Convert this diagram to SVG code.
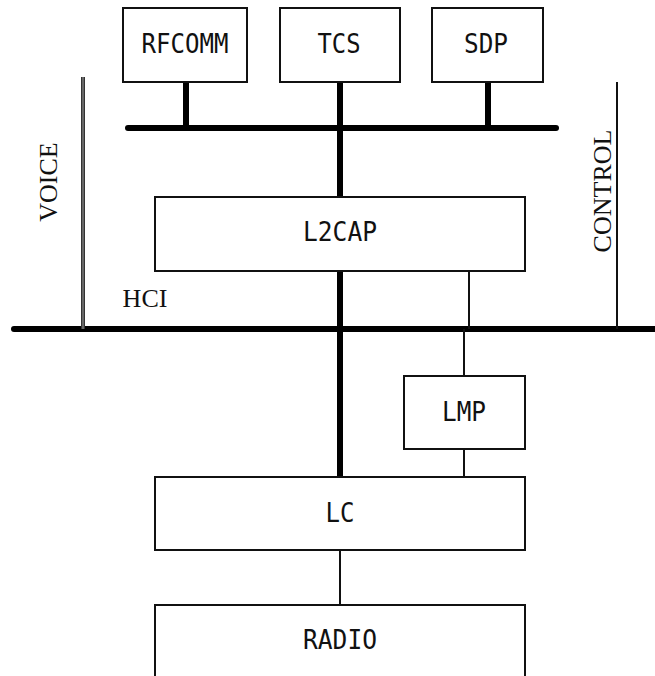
<svg xmlns="http://www.w3.org/2000/svg" width="655" height="676" viewBox="0 0 655 676">
<style>
.box{fill:#fff;stroke:#111;stroke-width:2}
.lbl{font-family:"DejaVu Sans Mono","Liberation Mono",monospace;font-size:27px;fill:#111;text-anchor:middle}
.side{font-family:"Liberation Serif","Times New Roman",serif;font-size:26px;fill:#111;text-anchor:middle}
.thick{stroke:#000;stroke-width:6;stroke-linecap:round;fill:none}
.thin{stroke:#111;stroke-width:2;fill:none}
</style>
<rect width="655" height="676" fill="#fff"/>
<g id="connectors">
  <line class="thick" x1="128" y1="128" x2="556" y2="128"/>
  <line class="thick" x1="186" y1="82" x2="186" y2="128"/>
  <line class="thick" x1="340" y1="82" x2="340" y2="197"/>
  <line class="thick" x1="488" y1="82" x2="488" y2="128"/>
  <line class="thick" x1="14" y1="329" x2="655" y2="329"/>
  <line class="thick" x1="340" y1="271" x2="340" y2="477"/>
  <line class="thin" x1="469" y1="271" x2="469" y2="329"/>
  <line class="thin" x1="464" y1="329" x2="464" y2="376"/>
  <line class="thin" x1="464" y1="449" x2="464" y2="477"/>
  <line class="thin" x1="340" y1="550" x2="340" y2="605"/>
  <line x1="83" y1="77" x2="83" y2="329" stroke="#333" stroke-width="4"/>
  <line x1="83" y1="77" x2="83" y2="329" stroke="#666" stroke-width="2"/>
  <line class="thin" x1="617" y1="82" x2="617" y2="329"/>
</g>
<g id="rfcomm"><rect class="box" x="123" y="8" width="124" height="74"/><text class="lbl" x="185" y="53" textLength="87" lengthAdjust="spacingAndGlyphs">RFCOMM</text></g>
<g id="tcs"><rect class="box" x="280" y="8" width="120" height="74"/><text class="lbl" x="339" y="53" textLength="43" lengthAdjust="spacingAndGlyphs">TCS</text></g>
<g id="sdp"><rect class="box" x="432" y="8" width="111" height="74"/><text class="lbl" x="486" y="53" textLength="44" lengthAdjust="spacingAndGlyphs">SDP</text></g>
<g id="l2cap"><rect class="box" x="155" y="197" width="370" height="74"/><text class="lbl" x="340" y="241" textLength="74" lengthAdjust="spacingAndGlyphs">L2CAP</text></g>
<g id="lmp"><rect class="box" x="404" y="376" width="121" height="73"/><text class="lbl" x="464" y="421" textLength="44" lengthAdjust="spacingAndGlyphs">LMP</text></g>
<g id="lc"><rect class="box" x="155" y="477" width="370" height="73"/><text class="lbl" x="340" y="522" textLength="29" lengthAdjust="spacingAndGlyphs">LC</text></g>
<g id="radio"><path class="box" d="M155,678 V605 H525 V678"/><text class="lbl" x="340" y="649" textLength="74" lengthAdjust="spacingAndGlyphs">RADIO</text></g>
<g id="voice"><text class="side" transform="translate(57,182) rotate(-90)">VOICE</text></g>
<g id="control"><text class="side" transform="translate(611,191) rotate(-90)">CONTROL</text></g>
<g id="hci"><text class="side" x="145" y="307">HCI</text></g>
</svg>
